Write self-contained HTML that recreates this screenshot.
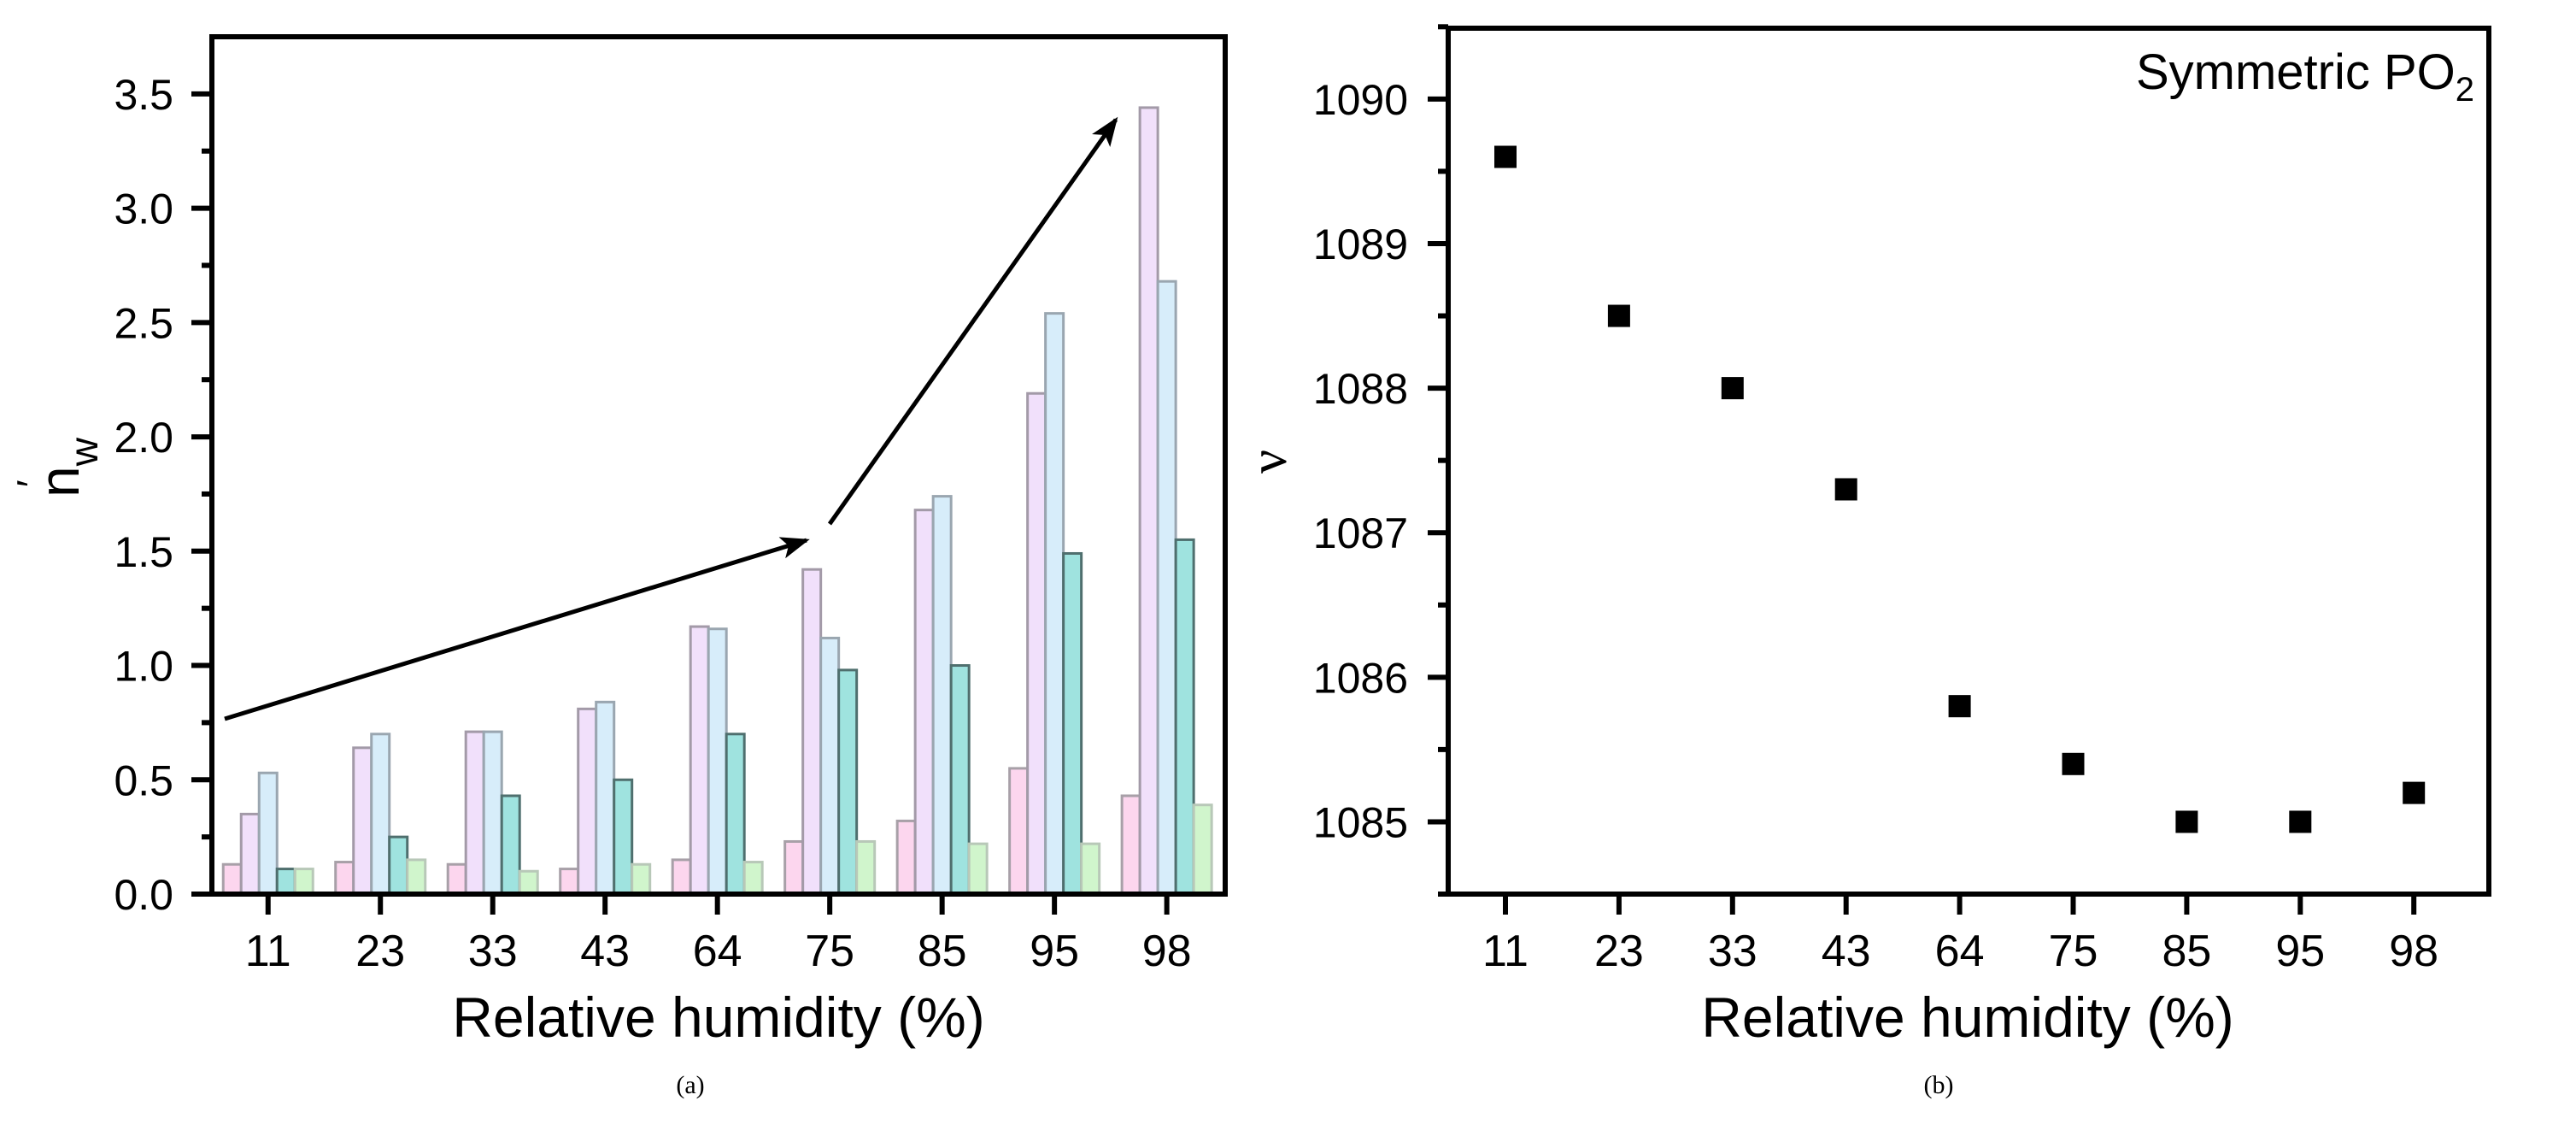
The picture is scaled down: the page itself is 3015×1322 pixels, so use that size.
<!DOCTYPE html>
<html><head><meta charset="utf-8">
<style>
html,body{margin:0;padding:0;background:#fff;}
svg text{font-family:"Liberation Sans",sans-serif;fill:#000;}
</style></head>
<body>
<svg id="fig" width="3015" height="1317" viewBox="0 0 3015 1317" xmlns="http://www.w3.org/2000/svg">
<defs>
<marker id="ah" markerWidth="34" markerHeight="26" refX="30" refY="13" orient="auto" markerUnits="userSpaceOnUse" viewBox="0 0 34 26">
<path d="M0,0 L34,13 L0,26 L8,13 z" fill="#000"/>
</marker>
</defs>
<g id="chartA"></g>
<g id="chartB"></g>
</svg>
<script>
const categories = ["11","23","33","43","64","75","85","95","98"];
const seriesPink   = [0.13,0.14,0.13,0.11,0.15,0.23,0.32,0.55,0.43];
const seriesPurple = [0.35,0.64,0.71,0.81,1.17,1.42,1.68,2.19,3.44];
const seriesBlue   = [0.53,0.70,0.71,0.84,1.16,1.12,1.74,2.54,2.68];
const seriesTeal   = [0.11,0.25,0.43,0.50,0.70,0.98,1.00,1.49,1.55];
const seriesGreen  = [0.11,0.15,0.10,0.13,0.14,0.23,0.22,0.22,0.39];
const yTicksA = ["0.0","0.5","1.0","1.5","2.0","2.5","3.0","3.5"];
const nuValues = [1089.6,1088.5,1088.0,1087.3,1085.8,1085.4,1085.0,1085.0,1085.2];
const yTicksB = ["1085","1086","1087","1088","1089","1090"];

const NS="http://www.w3.org/2000/svg";
function mk(parent,tag,attrs,text){const e=document.createElementNS(NS,tag);for(const k in attrs)e.setAttribute(k,attrs[k]);if(text!==undefined)e.textContent=text;parent.appendChild(e);return e;}

// ---------- Chart A ----------
const A=document.getElementById('chartA');
const aL=248,aR=1434,aT=43,aB=1046;
const ayMin=0,ayMax=3.75;
const ay=v=>aB-(v-ayMin)/(ayMax-ayMin)*(aB-aT);
const ax=i=>aL+(i+0.5)/9.02*(aR-aL);
const bw=21;
const seriesList=[seriesPink,seriesPurple,seriesBlue,seriesTeal,seriesGreen];
const fills=["#fcd6ee","#f1e0fb","#d7edfa","#9fe3df","#d0f5cc"];
const strokes=["#a8a0a8","#a39aa8","#9aa6b0","#4f6f6e","#b8c8b8"];
const names=["pink","purple","blue","teal","green"];
seriesList.forEach((s,si)=>{
  s.forEach((v,i)=>{
    const x=ax(i)-2.5*bw+si*bw;
    const r=mk(A,'rect',{x:x,y:ay(v),width:bw,height:aB-ay(v),fill:fills[si],stroke:strokes[si],'stroke-width':3});
    
    
  });
});
const fa=mk(A,'rect',{x:aL,y:aT,width:aR-aL,height:aB-aT,fill:'none',stroke:'#000','stroke-width':6});


yTicksA.forEach((t,i)=>{
  const v=parseFloat(t);const y=ay(v);
  mk(A,'line',{x1:aL-24,x2:aL,y1:y,y2:y,stroke:'#000','stroke-width':6});
  if(i<yTicksA.length-1){const ym=ay(v+0.25);mk(A,'line',{x1:aL-12,x2:aL,y1:ym,y2:ym,stroke:'#000','stroke-width':6});}
  const tx=mk(A,'text',{x:203,y:y+18,'font-size':50,'text-anchor':'end'},t);
  
  
});
categories.forEach((c,i)=>{
  const x=ax(i);
  mk(A,'line',{x1:x,x2:x,y1:aB,y2:aB+24,stroke:'#000','stroke-width':6});
  const tx=mk(A,'text',{x:x,y:1130,'font-size':52,'text-anchor':'middle'},c);
  
  
});
const xtA=mk(A,'text',{x:841,y:1213,'font-size':66,'text-anchor':'middle'},'Relative humidity (%)');


const ytA=mk(A,'text',{x:0,y:0,'font-size':66,'text-anchor':'middle',transform:'translate(92,547) rotate(-90)'});


ytA.innerHTML='n<tspan dy="22" font-size="46">w</tspan><tspan dx="-58" dy="-62" font-size="46">\u2032</tspan>';
const ar1=mk(A,'line',{x1:263,y1:841,x2:944,y2:632,stroke:'#000','stroke-width':5,'marker-end':'url(#ah)'});


const ar2=mk(A,'line',{x1:971,y1:613,x2:1306,y2:140,stroke:'#000','stroke-width':5,'marker-end':'url(#ah)'});


const capA=mk(A,'text',{x:808,y:1279,'font-size':30,'text-anchor':'middle',style:'font-family:"Liberation Serif",serif'},'(a)');



// ---------- Chart B ----------
const B=document.getElementById('chartB');
const bL=1695,bR=2913,bT=33,bB=1046;
const byMin=1084.5,byMax=1090.49;
const by=v=>bB-(v-byMin)/(byMax-byMin)*(bB-bT);
const bx=i=>1762+i*132.9;
nuValues.forEach((v,i)=>{
  const r=mk(B,'rect',{x:bx(i)-13,y:by(v)-13,width:26,height:26,fill:'#000'});
  
  
});
const fb=mk(B,'rect',{x:bL,y:bT,width:bR-bL,height:bB-bT,fill:'none',stroke:'#000','stroke-width':6});


yTicksB.forEach((t,i)=>{
  const v=parseFloat(t);const y=by(v);
  mk(B,'line',{x1:bL-24,x2:bL,y1:y,y2:y,stroke:'#000','stroke-width':6});
  const ym=by(v+0.5);mk(B,'line',{x1:bL-12,x2:bL,y1:ym,y2:ym,stroke:'#000','stroke-width':6});
  const tx=mk(B,'text',{x:1648,y:y+18,'font-size':50,'text-anchor':'end'},t);
  
  
});
mk(B,'line',{x1:bL-12,x2:bL,y1:by(1084.5),y2:by(1084.5),stroke:'#000','stroke-width':6});
categories.forEach((c,i)=>{
  const x=bx(i);
  mk(B,'line',{x1:x,x2:x,y1:bB,y2:bB+24,stroke:'#000','stroke-width':6});
  const tx=mk(B,'text',{x:x,y:1130,'font-size':52,'text-anchor':'middle'},c);
  
  
});
const xtB=mk(B,'text',{x:2303,y:1213,'font-size':66,'text-anchor':'middle'},'Relative humidity (%)');


const ytB=mk(B,'text',{x:0,y:0,'font-size':62,'text-anchor':'middle',transform:'translate(1505,540) rotate(-90)',style:'font-family:"Liberation Serif",serif'},'\u03bd');


const lab=mk(B,'text',{x:2896,y:104,'font-size':58,'text-anchor':'end'});


lab.innerHTML='Symmetric PO<tspan dy="14" font-size="40">2</tspan>';
const capB=mk(B,'text',{x:2269,y:1279,'font-size':30,'text-anchor':'middle',style:'font-family:"Liberation Serif",serif'},'(b)');


</script>
</body></html>
